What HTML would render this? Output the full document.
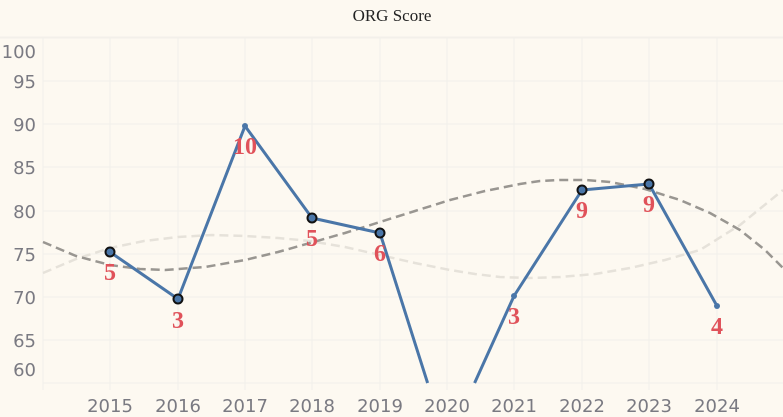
<!DOCTYPE html>
<html><head><meta charset="utf-8"><style>
html,body{margin:0;padding:0;background:#fdf9f1;width:783px;height:417px;overflow:hidden;}
svg{display:block}
</style></head><body>
<svg width="783" height="417" xmlns="http://www.w3.org/2000/svg">
<rect width="783" height="417" fill="#fdf9f1"/>
<text x="392" y="21" text-anchor="middle" font-family="Liberation Serif, serif" font-size="17" fill="#222">ORG Score</text>
<line x1="0" y1="37.5" x2="783" y2="37.5" stroke="#f3f0ea" stroke-width="2"/>
<g stroke="#f1efea" stroke-width="1">
<line x1="43" y1="81" x2="783" y2="81"/><line x1="43" y1="124" x2="783" y2="124"/>
<line x1="43" y1="167" x2="783" y2="167"/><line x1="43" y1="211" x2="783" y2="211"/>
<line x1="43" y1="254" x2="783" y2="254"/><line x1="43" y1="297" x2="783" y2="297"/>
<line x1="43" y1="340" x2="783" y2="340"/><line x1="43" y1="383" x2="783" y2="383"/>
<line x1="43" y1="38" x2="43" y2="390"/>
<line x1="110" y1="38" x2="110" y2="390"/><line x1="178" y1="38" x2="178" y2="390"/>
<line x1="245" y1="38" x2="245" y2="390"/><line x1="312" y1="38" x2="312" y2="390"/>
<line x1="380" y1="38" x2="380" y2="390"/><line x1="447" y1="38" x2="447" y2="390"/>
<line x1="514" y1="38" x2="514" y2="390"/><line x1="582" y1="38" x2="582" y2="390"/>
<line x1="649" y1="38" x2="649" y2="390"/><line x1="717" y1="38" x2="717" y2="390"/>
</g>
<g font-family="DejaVu Sans, sans-serif" font-size="18" fill="#7a7a82" text-anchor="end">
<text x="36" y="58">100</text><text x="36" y="88">95</text><text x="36" y="131">90</text>
<text x="36" y="174">85</text><text x="36" y="218">80</text><text x="36" y="261">75</text>
<text x="36" y="304">70</text><text x="36" y="347">65</text><text x="36" y="376">60</text>
</g>
<g font-family="DejaVu Sans, sans-serif" font-size="18" fill="#7a7a82" text-anchor="middle">
<text x="110" y="412">2015</text><text x="178" y="412">2016</text><text x="245" y="412">2017</text>
<text x="312" y="412">2018</text><text x="380" y="412">2019</text><text x="447" y="412">2020</text>
<text x="514" y="412">2021</text><text x="582" y="412">2022</text><text x="649" y="412">2023</text>
<text x="717" y="412">2024</text>
</g>
<g fill="none" stroke-dasharray="9,5" stroke-width="2.5" stroke-linejoin="round">
<polyline stroke="#e6e2da" points="43,273 76,259 110,248 144,241 178,237 212,235 245,236 278,238 310,241 345,247 380,255 415,263 450,270 475,274 500,277 530,278 560,277 595,274 630,268 665,260 700,250 740,225 783,190"/>
<polyline stroke="#999691" points="43,242 76,256 110,265 140,269 165,270 205,267 245,260 278,252 310,243 345,233 380,222 415,211 450,200 485,191 520,184 540,181 560,180 585,180 610,182 645,189 680,200 710,213 740,230 765,250 783,268"/>
</g>
<g fill="none" stroke="#4a76a8" stroke-width="3" stroke-linejoin="round">
<polyline points="110,252 178,299 245,126 312,218 380,233 427.6,383"/>
<polyline points="474.6,383 514,296 582,190 649,184 717,306"/>
</g>
<g fill="#4a76a8" stroke="#111" stroke-width="2">
<circle cx="110" cy="252" r="4.5"/><circle cx="178" cy="299" r="4.5"/>
<circle cx="312" cy="218" r="4.5"/><circle cx="380" cy="233" r="4.5"/>
<circle cx="582" cy="190" r="4.5"/><circle cx="649" cy="184" r="4.5"/>
</g>
<g fill="#4a76a8"><circle cx="245" cy="126" r="3"/><circle cx="514" cy="296" r="3"/><circle cx="717" cy="306" r="3"/></g>
<g font-family="Liberation Serif, serif" font-weight="bold" font-size="24" fill="#e0525a" text-anchor="middle">
<text x="110" y="280">5</text><text x="178" y="328">3</text><text x="245" y="154">10</text>
<text x="312" y="246">5</text><text x="380" y="261">6</text><text x="514" y="324">3</text>
<text x="582" y="218">9</text><text x="649" y="212">9</text><text x="717" y="334">4</text>
</g>
</svg>
</body></html>
